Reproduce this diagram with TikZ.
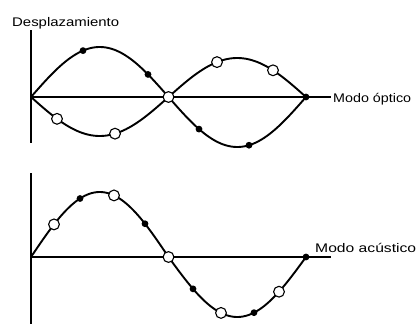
\documentclass[tikz,border=0pt]{standalone}
\usepackage{fontspec}
\setmainfont{Liberation Sans}
\newcommand{\lbltext}[2]{\resizebox{#1}{\height}{\fontsize{12.5pt}{15pt}\selectfont #2}}
\begin{document}
\begin{tikzpicture}[x=1pt,y=-1pt,
  axis/.style={line width=1.3pt},
  curve/.style={line width=1.9pt, line join=round},
  opendot/.style={draw=black, fill=white, line width=1.1pt},
  lbl/.style={inner sep=0pt}]
\useasboundingbox (0,0) rectangle (419,324);
\def\k{1.30909}
% top panel
\coordinate (t0) at (31,97);
\coordinate (ttop) at (31,30);
\coordinate (tbot) at (31,143);
\coordinate (tend) at (331,97);
\draw[axis] (ttop) -- (tbot);
\draw[axis] (t0) -- (tend);
\node[lbl, anchor=base west] (dl) at (12,26) {\lbltext{107pt}{Desplazamiento}};
\node[lbl, anchor=base west] (mo) at (333,102) {\lbltext{78pt}{Modo óptico}};
\draw[curve] plot[domain=31:306, samples=120, smooth] (\x,{97-50*sin(\k*(\x-31))});
\draw[curve] plot[domain=31:306, samples=120, smooth] (\x,{97+39*sin(\k*(\x-31))});
\foreach \px in {83,148,199,249,306}
  \fill (\px,{97-50*sin(\k*(\px-31))}) circle (3.4);
\foreach \px in {57,115,168.5,217,273}
  \draw[opendot] (\px,{97+39*sin(\k*(\px-31))}) circle (5.4);
% bottom panel
\coordinate (b0) at (31,257);
\coordinate (btop) at (31,173);
\coordinate (bbot) at (31,324);
\coordinate (bend) at (331,257);
\draw[axis] (btop) -- (bbot);
\draw[axis] (b0) -- (bend);
\node[lbl, anchor=base west] (ma) at (315,252) {\lbltext{101pt}{Modo acústico}};
\draw[curve] plot[domain=31:168.5, samples=60, smooth] (\x,{257-65*sin(\k*(\x-31))})
  -- plot[domain=168.5:306, samples=60, smooth] (\x,{257-60*sin(\k*(\x-31))});
\foreach \px in {80,145}
  \fill (\px,{257-65*sin(\k*(\px-31))}) circle (3.4);
\foreach \px in {193,254,306}
  \fill (\px,{257-60*sin(\k*(\px-31))}) circle (3.4);
\foreach \px in {54,114}
  \draw[opendot] (\px,{257-65*sin(\k*(\px-31))}) circle (5.4);
\foreach \px in {168.5,221,279}
  \draw[opendot] (\px,{257-60*sin(\k*(\px-31))}) circle (5.4);
\end{tikzpicture}
\end{document}
